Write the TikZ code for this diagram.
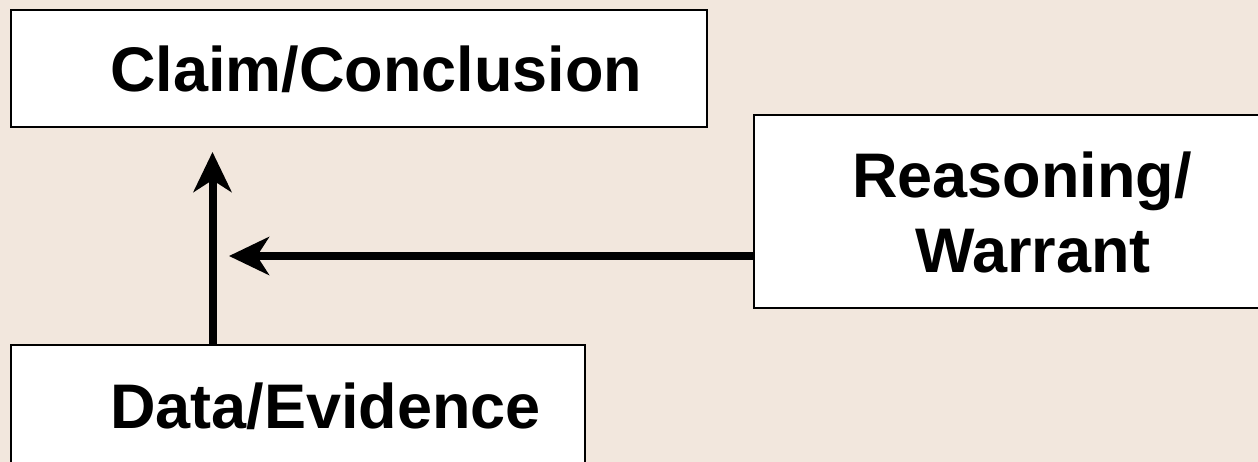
\documentclass[tikz,border=0pt]{standalone}
\usepackage{fontspec}
\setmainfont{Liberation Sans}
\usetikzlibrary{arrows.meta}
\definecolor{bgbeige}{RGB}{242,231,221}
\tikzset{
  box/.style={draw=black, line width=2pt, fill=white, rectangle, anchor=north west, inner sep=0pt, outer sep=0pt},
  lbl/.style={font=\fontsize{63}{75}\selectfont\bfseries, inner sep=0pt, outer sep=0pt},
  arr/.style={line width=8pt, -{Stealth[length=40pt, width=38pt, inset=12pt]}}
}
\begin{document}
\begin{tikzpicture}[x=1pt,y=-1pt]
\useasboundingbox (0,0) rectangle (1258,462);
\clip (0,0) rectangle (1258,462);
\fill[bgbeige] (0,0) rectangle (1258,462);
\node[box, minimum width=696pt, minimum height=117pt] (claim) at (11,10) {};
\node[box, minimum width=530pt, minimum height=193pt] (reason) at (754,115) {};
\node[box, minimum width=574pt, minimum height=140pt] (data) at (11,345) {};
\node[lbl, anchor=base west] (claimtxt) at (110,92) {Claim/Conclusion};
\node[lbl, anchor=base west] (datatxt) at (110,428) {Data/Evidence};
\node[lbl, anchor=base] (reasontxt1) at (1022,198) {Reasoning/};
\node[lbl, anchor=base] (reasontxt2) at (1033,273) {Warrant};
\coordinate (vtip) at (212.5,152);
\coordinate (htip) at (229,256);
\draw[arr] (data.north -| vtip) -- (vtip);
\draw[arr] (reason.west |- htip) -- (htip);
\end{tikzpicture}
\end{document}
